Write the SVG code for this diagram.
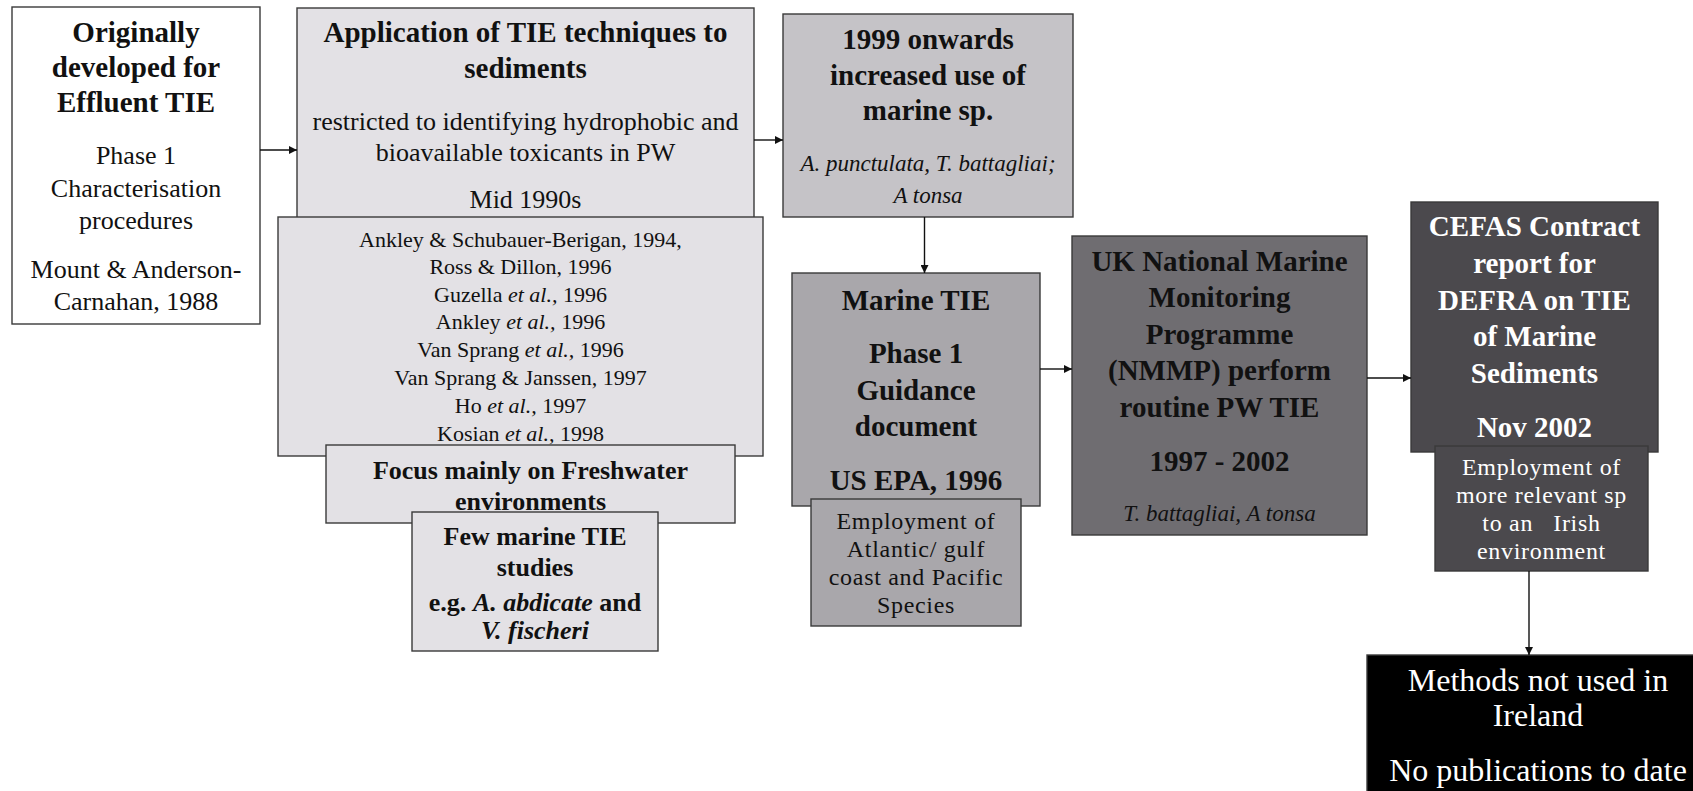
<svg xmlns="http://www.w3.org/2000/svg" width="1693" height="791" viewBox="0 0 1693 791">
<style>
rect{stroke:#3a3a3a;stroke-width:1.4}
text{font-family:"Liberation Serif","Times New Roman",serif;text-anchor:middle;fill:#111}
.b{font-weight:bold;font-size:29px}
.b26{font-weight:bold;font-size:26px}
.r26{font-size:26px}
.r22{font-size:22px}
.r24{font-size:24px;letter-spacing:0.7px}
.i{font-style:italic;font-size:23px}
.w{fill:#fff}
.c1{fill:#fff}
.c2{fill:#e3e1e5}
.c3{fill:#c5c3c7}
.c4{fill:#a9a7ab}
.c5{fill:#6f6d71}
.c6{fill:#4b494d}
.c7{fill:#000}
.ln{stroke:#111;stroke-width:1.4;fill:none;marker-end:url(#ah)}
</style>
<defs>
<marker id="ah" viewBox="0 0 10 10" refX="10" refY="5" markerWidth="8" markerHeight="8" markerUnits="userSpaceOnUse" orient="auto">
<path d="M0,0 L10,5 L0,10 z" fill="#111"/>
</marker>
</defs>
<g id="n1">
<rect class="c1" x="12" y="7" width="248" height="317"/>
<text class="b" x="136" y="42">Originally</text>
<text class="b" x="136" y="77">developed for</text>
<text class="b" x="136" y="112">Effluent TIE</text>
<text class="r26" x="136" y="164">Phase 1</text>
<text class="r26" x="136" y="197">Characterisation</text>
<text class="r26" x="136" y="229">procedures</text>
<text class="r26" x="136" y="278">Mount &amp; Anderson-</text>
<text class="r26" x="136" y="310">Carnahan, 1988</text>
</g>
<g id="n2">
<rect class="c2" x="297" y="8" width="457" height="215"/>
<text class="b" x="525.5" y="42">Application of TIE techniques to</text>
<text class="b" x="525.5" y="78">sediments</text>
<text class="r26" x="525.5" y="130">restricted to identifying hydrophobic and</text>
<text class="r26" x="525.5" y="161">bioavailable toxicants in PW</text>
<text class="r26" x="525.5" y="208">Mid 1990s</text>
</g>
<g id="n3">
<rect class="c2" x="278" y="217" width="485" height="239"/>
<text class="r22" x="520.5" y="247">Ankley &amp; Schubauer-Berigan, 1994,</text>
<text class="r22" x="520.5" y="274">Ross &amp; Dillon, 1996</text>
<text class="r22" x="520.5" y="302">Guzella <tspan font-style="italic">et al.,</tspan> 1996</text>
<text class="r22" x="520.5" y="329">Ankley <tspan font-style="italic">et al.,</tspan> 1996</text>
<text class="r22" x="520.5" y="357">Van Sprang <tspan font-style="italic">et al.,</tspan> 1996</text>
<text class="r22" x="520.5" y="385">Van Sprang &amp; Janssen, 1997</text>
<text class="r22" x="520.5" y="413">Ho <tspan font-style="italic">et al.,</tspan> 1997</text>
<text class="r22" x="520.5" y="441">Kosian <tspan font-style="italic">et al.,</tspan> 1998</text>
</g>
<g id="n4">
<rect class="c2" x="326" y="445" width="409" height="78"/>
<text class="b26" x="530.5" y="479">Focus mainly on Freshwater</text>
<text class="b26" x="530.5" y="510">environments</text>
</g>
<g id="n5">
<rect class="c2" x="412" y="512" width="246" height="139"/>
<text class="b26" x="535" y="545">Few marine TIE</text>
<text class="b26" x="535" y="576">studies</text>
<text class="b26" x="535" y="611">e.g. <tspan font-style="italic">A. abdicate</tspan> and</text>
<text class="b26" x="535" y="639" font-style="italic">V. fischeri</text>
</g>
<g id="n6">
<rect class="c3" x="783" y="14" width="290" height="203"/>
<text class="b" x="928" y="49">1999 onwards</text>
<text class="b" x="928" y="85">increased use of</text>
<text class="b" x="928" y="120">marine sp.</text>
<text class="i" x="928" y="171">A. punctulata, T. battagliai;</text>
<text class="i" x="928" y="203">A tonsa</text>
</g>
<g id="n7">
<rect class="c4" x="792" y="273" width="248" height="233"/>
<text class="b" x="916" y="310">Marine TIE</text>
<text class="b" x="916" y="363">Phase 1</text>
<text class="b" x="916" y="400">Guidance</text>
<text class="b" x="916" y="436">document</text>
<text class="b" x="916" y="490">US EPA, 1996</text>
</g>
<g id="n8">
<rect class="c4" x="811" y="499" width="210" height="127"/>
<text class="r24" x="916" y="529">Employment of</text>
<text class="r24" x="916" y="557">Atlantic/ gulf</text>
<text class="r24" x="916" y="585">coast and Pacific</text>
<text class="r24" x="916" y="613">Species</text>
</g>
<g id="n9">
<rect class="c5" x="1072" y="236" width="295" height="299"/>
<text class="b" x="1219.5" y="271">UK National Marine</text>
<text class="b" x="1219.5" y="307">Monitoring</text>
<text class="b" x="1219.5" y="344">Programme</text>
<text class="b" x="1219.5" y="380">(NMMP) perform</text>
<text class="b" x="1219.5" y="417">routine PW TIE</text>
<text class="b" x="1219.5" y="471">1997 - 2002</text>
<text class="i" x="1219.5" y="521" fill="#222">T. battagliai, A tonsa</text>
</g>
<g id="n10">
<rect class="c6" x="1411" y="202" width="247" height="250"/>
<text class="b w" x="1534.5" y="236">CEFAS Contract</text>
<text class="b w" x="1534.5" y="273">report for</text>
<text class="b w" x="1534.5" y="310">DEFRA on TIE</text>
<text class="b w" x="1534.5" y="346">of Marine</text>
<text class="b w" x="1534.5" y="383">Sediments</text>
<text class="b w" x="1534.5" y="437">Nov 2002</text>
</g>
<g id="n11">
<rect class="c6" x="1435" y="446" width="213" height="125"/>
<text class="r24 w" x="1541.5" y="475">Employment of</text>
<text class="r24 w" x="1541.5" y="503">more relevant sp</text>
<text class="r24 w" x="1541.5" y="531" xml:space="preserve">to an   Irish</text>
<text class="r24 w" x="1541.5" y="559">environment</text>
</g>
<g id="n12">
<rect class="c7" x="1367" y="655" width="340" height="150"/>
<text class="w" font-size="32" x="1538" y="691">Methods not used in</text>
<text class="w" font-size="32" x="1538" y="726">Ireland</text>
<text class="w" font-size="32" x="1538" y="781">No publications to date</text>
</g>
<g id="connectors">
<line class="ln" x1="260" y1="150" x2="297" y2="150"/>
<line class="ln" x1="754" y1="140" x2="783" y2="140"/>
<line class="ln" x1="924.5" y1="217" x2="924.5" y2="273"/>
<line class="ln" x1="1040" y1="369" x2="1072" y2="369"/>
<line class="ln" x1="1367" y1="378" x2="1411" y2="378"/>
<line class="ln" x1="1529" y1="571" x2="1529" y2="655"/>
</g>
</svg>
